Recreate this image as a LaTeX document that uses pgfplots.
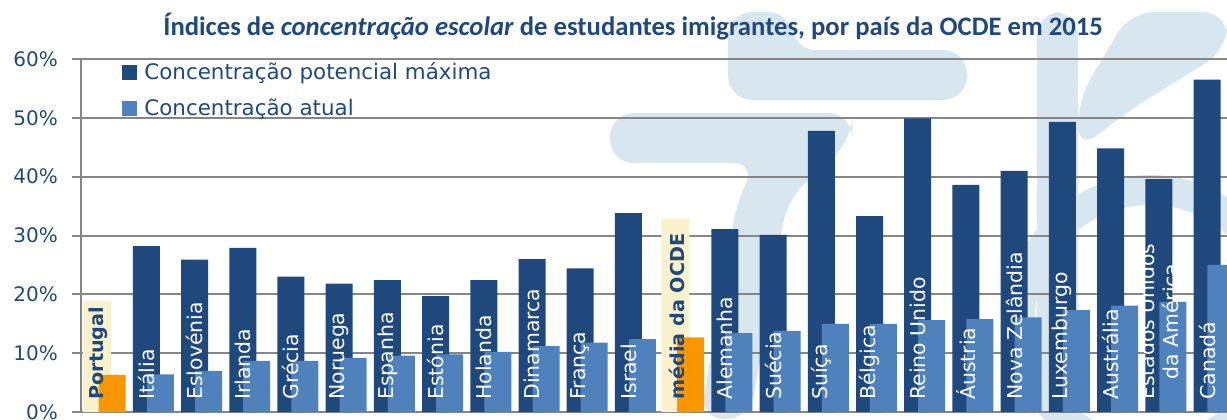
\documentclass[border=0pt]{standalone}
\usepackage{fontspec}
\setmainfont{DejaVu Sans}
\newfontfamily\titlefont{Carlito}
\usepackage{pgfplots}
\pgfplotsset{compat=1.18}

\definecolor{darkbar}{RGB}{31,73,125}
\definecolor{lightbar}{RGB}{79,129,189}
\definecolor{orangebar}{RGB}{250,150,0}
\definecolor{creambox}{RGB}{250,242,204}
\definecolor{gridgray}{RGB}{134,134,134}
\definecolor{txtblue}{RGB}{31,73,125}
\definecolor{wmark}{RGB}{216,230,239}

% highlighted category names (Portugal, OCDE average)
\newcommand{\hl}[1]{{\fontsize{9.6}{11}\selectfont\bfseries\color{txtblue}#1}}

% same as the standard layer set, but tick labels above the bars
\makeatletter
\pgfplotsset{
  layers/labels on top/.define layer set={
    axis background,axis grid,axis ticks,axis lines,pre main,main,axis tick labels,axis descriptions,axis foreground
  }{
    grid style={/pgfplots/on layer=axis grid},
    tick style={/pgfplots/on layer=axis ticks},
    axis line style={/pgfplots/on layer=axis lines},
    label style={/pgfplots/on layer=axis descriptions},
    legend style={/pgfplots/on layer=axis descriptions},
    title style={/pgfplots/on layer=axis descriptions},
    colorbar style={/pgfplots/on layer=axis descriptions},
    ticklabel style={/pgfplots/on layer=axis tick labels},
    axis background@ style={/pgfplots/on layer=axis background},
    3d box foreground style={/pgfplots/on layer=axis foreground},
  },
  set layers=labels on top,
}
\makeatother

\begin{document}
\begin{tikzpicture}
% faint logo in the background
\begin{pgfonlayer}{axis background}
\begin{scope}[fill=wmark, rounded corners=12pt]
  \fill (323.5pt,156pt) -- (323.5pt,200pt) -- (355.5pt,200pt) -- (355.5pt,181pt) -- (443pt,181pt) -- (443pt,156pt) -- cycle;
  \fill (264.5pt,124.5pt) -- (264.5pt,149.5pt) -- (385.5pt,149.5pt) -- (385.5pt,136pt) -- (353pt,106pt) -- (334.5pt,-3.5pt)
     -- (309.5pt,-3.5pt) -- (328pt,106pt) -- (338pt,124.5pt) -- cycle;
  \fill (478pt,-3.5pt) rectangle (498.5pt,200pt);
  \fill (498.5pt,156pt) -- (524.5pt,200pt) -- (573pt,200pt) -- (573pt,181pt) -- (524.5pt,151pt) -- (498.5pt,131pt) -- cycle;
\end{scope}
\fill[wmark, even odd rule] (534.5pt,46pt) circle[radius=72.5pt] (534.5pt,46pt) circle[radius=57.5pt];
\end{pgfonlayer}
\begin{axis}[
  name=ax, at={(0pt,0pt)}, anchor=south west,
  scale only axis, width=573pt, height=176.5pt,
  xmin=-0.5, xmax=23.27, ymin=0, ymax=60,
  axis x line=bottom, axis y line=left,
  axis line style={gridgray, line width=1pt, -},
  ytick={0,10,...,60},
  yticklabel={\pgfmathprintnumber{\tick}\%},
  /pgf/number format/assume math mode=true,
  yticklabel style={font=\fontsize{10}{12}\selectfont, text=txtblue, xshift=-3.5pt},
  ymajorgrids, grid style={gridgray, line width=1pt},
  tick align=outside, major tick length=4.5pt,
  ytick style={gridgray, line width=1pt},
  xtick={-0.145,0.855,...,22.855},
  xtick style={draw=none},
  xticklabels={\hl{Portugal}, Itália, Eslovénia, Irlanda, Grécia, Noruega, Espanha, Estónia, Holanda, Dinamarca, França, Israel, \hl{média da OCDE}, Alemanha, Suécia, Suíça, Bélgica, Reino Unido, Áustria, Nova Zelândia, Luxemburgo, Austrália, {Estados Unidos\\da América}, Canadá},
  xticklabel style={rotate=90, anchor=west, inner sep=0pt, text=white, align=center, font=\fontsize{10.2}{12}\selectfont},
  xticklabel shift=-10.5pt,
  legend style={draw=none, fill=none, inner sep=0pt, at={(axis description cs:0.0358,1.003)}, anchor=north west,
    font=\fontsize{10.7}{12.5}\selectfont, text=txtblue, row sep=4.2pt, column sep=1.5pt, cells={anchor=west}},
  legend image code/.code={\fill[#1] (0pt,-3.75pt) rectangle (7.5pt,3.75pt);},
]
% cream highlight behind the two highlighted names
\addplot[ybar, bar width=0.58, bar shift=-0.17, fill=creambox, draw=none, forget plot]
  coordinates {(0,18.9) (12,32.9)};
% Concentracao potencial maxima
\addplot[ybar, bar width=0.56, bar shift=-0.145, fill=darkbar, draw=none]
  coordinates {(1,28.2) (2,25.9) (3,27.9) (4,23.0) (5,21.8) (6,22.4) (7,19.7) (8,22.4)
    (9,26.0) (10,24.4) (11,33.8) (13,31.1) (14,30.1) (15,47.8) (16,33.3) (17,49.9)
    (18,38.6) (19,41.0) (20,49.3) (21,44.8) (22,39.6) (23,56.5)};
% Concentracao atual
\addplot[ybar, bar width=0.56, bar shift=0.145, fill=lightbar, draw=none]
  coordinates {(1,6.4) (2,7.0) (3,8.7) (4,8.7) (5,9.2) (6,9.6) (7,9.8) (8,10.2)
    (9,11.2) (10,11.8) (11,12.4) (13,13.4) (14,13.8) (15,15.0) (16,15.0) (17,15.6)
    (18,15.8) (19,16.1) (20,17.3) (21,18.1) (22,18.7) (23,25.0)};
% Portugal and OCDE average
\addplot[ybar, bar width=0.56, bar shift=0.145, fill=orangebar, draw=none, forget plot]
  coordinates {(0,6.3) (12,12.7)};
\legend{Concentração potencial máxima, Concentração atual}
\end{axis}
\node[anchor=base west, inner sep=0pt, text=txtblue, font={\titlefont\bfseries\fontsize{13.34}{15}\selectfont}]
  at (41pt,188.5pt) {Índices de \textit{concentração escolar} de estudantes imigrantes, por país da OCDE em 2015};
\pgfresetboundingbox
\path (-40.5pt,-3.5pt) rectangle (573pt,206pt);
\end{tikzpicture}
\end{document}
